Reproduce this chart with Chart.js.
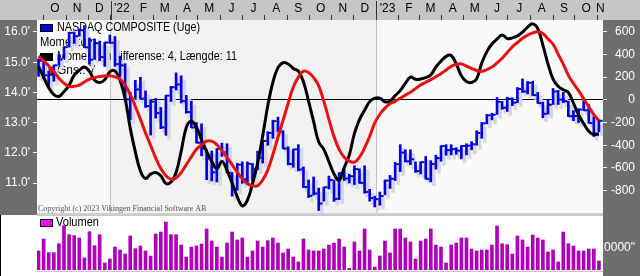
<!DOCTYPE html>
<html>
<head>
<meta charset="utf-8">
<script src="https://cdn.jsdelivr.net/npm/chart.js@4.4.0/dist/chart.umd.min.js"></script>
<style>
    html, body { margin: 0; padding: 0; background: #fff; }
    #wrap { width: 640px; height: 276px; overflow: hidden; }
    canvas { display: block; }
</style>
</head>
<body>
<div id="wrap">
    <canvas id="priceChart" width="640" height="215"></canvas>
    <canvas id="volChart" width="640" height="61"></canvas>
</div>
<script>
// weekly bars, first week ends Fri 24 Sep 2021
const firstWeek = Date.UTC(2021, 8, 24);

const high = [15110, 15040, 14700, 14900, 15250, 15505, 15990, 16000, 16100, 16212,
    15800, 15770, 15700, 15660, 15900,
    15850, 15200, 14950, 14000, 14400, 14500, 14050, 13750, 13800, 13500, 13900, 14200,
    14646, 14550, 13900, 13710, 13000, 12960, 12100, 12060, 12140, 12320, 12300, 11350,
    11650, 11700, 11700, 11650, 12050, 12400, 12700, 13080, 13181, 12730, 12200, 12120,
    12270, 11530, 11100, 11200, 10830, 10860, 11230, 11100, 11340, 11480, 11290, 11570,
    11470, 11570, 10790, 10560,
    10700, 11100, 11250, 11680, 12269, 12100, 12100, 11700, 11700, 11880, 11740, 11920,
    12230, 12270, 12270, 12170, 12240, 12300, 12370, 12730, 13000, 13270, 13310, 13830,
    13700, 13840, 13820, 14160, 14446, 14360, 14370, 14000, 13680, 13770, 14130, 14070,
    14000, 13710, 13400, 13460, 13720, 13600, 13200, 13070];
const low = [14530, 14450, 14180, 14370, 14900, 15120, 15500, 15620, 15860, 15480,
    14930, 15100, 15050, 14860, 15620,
    14860, 14530, 13760, 13094, 13800, 13780, 13500, 12587, 13150, 12800, 12580, 13700,
    14080, 13650, 13310, 12830, 12330, 11900, 11108, 11070, 11035, 11880, 11340, 10565,
    10760, 10990, 10960, 11080, 11440, 11660, 12250, 12480, 12700, 12140, 11600, 11520,
    11400, 10850, 10520, 10600, 10088, 10400, 10800, 10390, 10450, 11080, 11000, 10950,
    10990, 10660, 10400, 10207,
    10265, 10610, 10820, 11080, 11380, 11700, 11610, 11350, 11300, 11130, 11040, 11460,
    11720, 11920, 11930, 11950, 11800, 11930, 12100, 12250, 12480, 12960, 13090, 13270,
    13440, 13370, 13560, 13660, 14000, 13950, 13900, 13640, 13160, 13280, 13600, 13600,
    13660, 13200, 13060, 13000, 13400, 12980, 12540, 12690];
const close = [15047, 14566, 14580, 14897, 15090, 15498, 15971, 15860, 16057, 15491,
    15085, 15630, 15169, 15653, 15645,
    14935, 14894, 13768, 13770, 14098, 13791, 13548, 13694, 13313, 12843, 13893, 14169,
    14262, 13711, 13351, 12839, 12335, 12145, 11805, 11354, 12131, 12013, 11340, 10798,
    11608, 11128, 11635, 11452, 11834, 12391, 12657, 13047, 12705, 12142, 11631, 12112,
    11448, 10868, 10576, 10652, 10321, 10859, 11102, 10475, 11323, 11146, 11226, 11461,
    11005, 10705, 10498, 10466,
    10569, 11079, 11140, 11622, 12007, 11718, 11787, 11395, 11689, 11138, 11631, 11824,
    12222, 12088, 12123, 12073, 12227, 12235, 12284, 12658, 12975, 13241, 13259, 13689,
    13492, 13788, 13661, 14114, 14032, 14317, 13909, 13645, 13291, 13590, 14031, 13761,
    13708, 13212, 13219, 13431, 13407, 12984, 12643, 13061];

// momentum (diff 4, length 11) and its 7-week average
const momentum = [293, 199, 105, 46, 29, 72, 127, 217, 260, 288,
    249, 172, 153, 177, 246, 254, 172, 10, -249, -459,
    -626, -693, -654, -640, -668, -736, -724, -639, -453, -244,
    -189, -242, -352, -455, -543, -605, -542, -622, -733, -851,
    -933, -883, -738, -557, -318, -53, 154, 283, 326, 315,
    276, 253, 159, -11, -192, -372, -436, -544, -652, -709,
    -596, -487, -297, -174, -92, -16, 14, 14, -17, -12,
    37, 81, 145, 199, 180, 183, 195, 219, 289, 340,
    382, 390, 316, 211, 160, 152, 184, 323, 424, 491,
    533, 571, 539, 545, 562, 596, 640, 668, 627, 481,
    316, 182, 119, 88, 64, -29, -134, -209, -276, -306,
    -300];
const signal = [385, 342, 300, 249, 190, 146, 118, 118, 129, 156,
    181, 194, 205, 210, 211, 201, 182, 130, 47, -57,
    -172, -291, -401, -511, -605, -668, -699, -687, -641, -570,
    -502, -435, -398, -364, -364, -395, -448, -507, -571, -639,
    -694, -739, -756, -756, -705, -618, -481, -330, -180, -30,
    110, 199, 252, 241, 196, 123, -12, -172, -323, -437,
    -506, -539, -549, -505, -424, -322, -204, -127, -73, -35,
    -14, 14, 41, 66, 98, 130, 154, 177, 203, 230,
    262, 294, 312, 316, 296, 275, 258, 250, 265, 288,
    324, 366, 416, 466, 504, 541, 569, 589, 598, 583,
    536, 489, 400, 314, 215, 144, 80, 10, -61, -131,
    -185];

const volume = [17300, 28200, 15800, 15800, 23900, 40300, 32100, 31200, 29100, 10900,
    34800, 22100, 32100, 6400, 10000, 20900, 18200, 14500, 30900, 19400,
    21800, 17300, 12700, 32700, 34500, 43600, 32100, 32100, 22700, 11800,
    20900, 21800, 23600, 37300, 26400, 20900, 11800, 24500, 34500, 27300,
    29100, 11800, 17300, 26400, 20900, 26700, 29100, 24500, 15500, 19100,
    11800, 7300, 28200, 18200, 17300, 17300,
    19100, 22700, 24500, 28200, 20900, 1500, 25500, 17300, 37300, 18200,
    2700, 12700, 26400, 15500, 37300, 37300, 29100, 25500, 10000, 26400,
    28200, 37300, 22700, 20900, 6400, 22700, 24500, 29100, 29100, 19100,
    17300, 18200, 18200, 22700, 40000, 23900, 23000, 14500, 30900, 27300,
    20900, 31800, 29100, 27300, 16400, 18200, 7300, 34500, 23900, 21800,
    17300, 17300, 19100, 19100, 8200];

const priceTicks = [11000, 12000, 13000, 14000, 15000, 16000];
const momTicks = [-800, -600, -400, -200, 0, 200, 400, 600];
const volTicks = [20000];
const monthLetters = ['J', 'F', 'M', 'A', 'M', 'J', 'J', 'A', 'S', 'O', 'N', 'D'];

const X_MIN = -0.3, X_MAX = 110.8;
const DAY = 86400000;

Chart.defaults.font.family = '"Liberation Sans", Arial, sans-serif';
Chart.defaults.font.size = 12;

function weekPos(y, m, d) {
    return (Date.UTC(y, m, d) - firstWeek) / (7 * DAY);
}

// month boundaries get a tick mark, the middle of each month gets the letter
function monthTicks() {
    const out = [];
    for (let y = 2021; y <= 2023; y++) {
        for (let m = 0; m < 12; m++) {
            const start = weekPos(y, m, 1);
            const end = weekPos(y, m + 1, 1);
            if (end <= X_MIN || start >= X_MAX) continue;
            if (start <= X_MIN) continue;
            out.push({ value: start, kind: m === 0 ? 'year' : 'month' });
            const b = Math.min(end, X_MAX);
            const text = m === 0 ? "'" + String(y).slice(2) : monthLetters[m];
            out.push({ value: (start + b) / 2, kind: 'label', text: text });
        }
    }
    return out.sort((p, q) => p.value - q.value);
}

// keep chart.js from reserving room for edge labels
function noEdgePad(s) {
    s.paddingTop = 0; s.paddingBottom = 0;
    s.paddingLeft = 0; s.paddingRight = 0;
}

const idx = high.map((_, i) => i);

const priceBackdrop = {
    id: 'priceBackdrop',
    beforeDraw(chart) {
        const { ctx, chartArea: a, scales } = chart;
        ctx.save();
        ctx.fillStyle = '#6e6e6e';
        ctx.fillRect(0, 0, chart.width, chart.height);
        ctx.fillStyle = '#c6c6c6';
        ctx.fillRect(0, 0, chart.width, a.top);
        ctx.fillStyle = '#f9f9f9';
        ctx.fillRect(a.left, a.top, a.right - a.left, a.bottom - a.top);
        const x22 = scales.x.getPixelForValue(weekPos(2022, 0, 1));
        const x23 = scales.x.getPixelForValue(weekPos(2023, 0, 1));
        ctx.fillStyle = '#f1f1f1';
        ctx.fillRect(x22, a.top, x23 - x22, a.bottom - a.top);
        ctx.fillStyle = '#cfcfcf';
        ctx.fillRect(a.left, a.bottom, a.right - a.left, chart.height - a.bottom);
        ctx.strokeStyle = '#333';
        ctx.lineWidth = 1;
        [x22, x23].forEach(x => {
            ctx.beginPath();
            ctx.moveTo(Math.round(x) + 0.5, 1);
            ctx.lineTo(Math.round(x) + 0.5, a.top);
            ctx.stroke();
        });
        ctx.restore();
    },
    beforeDatasetsDraw(chart) {
        const { ctx, chartArea: a } = chart;
        ctx.save();
        ctx.textBaseline = 'middle';
        ctx.font = '12px "Liberation Sans", Arial, sans-serif';
        const boxes = [['#0000e0', 24], ['#000000', 53], ['#e81010', 67]];
        boxes.forEach(([c, y]) => {
            ctx.fillStyle = c;
            ctx.fillRect(a.left + 3, y, 13, 8);
            ctx.strokeStyle = '#000';
            ctx.strokeRect(a.left + 3.5, y + 0.5, 12, 7);
        });
        ctx.fillStyle = '#000';
        ctx.fillText('NASDAQ COMPOSITE (Uge)', a.left + 20, 28, 143);
        ctx.fillText('Momentum', a.left + 3, 43, 56);
        ctx.fillText('Momentum differense: 4, Længde: 11', a.left + 20, 57, 180);
        ctx.fillText('Gns.: 7', a.left + 20, 71, 40);
        ctx.font = '8px "Liberation Serif", serif';
        ctx.fillStyle = '#555';
        ctx.textBaseline = 'alphabetic';
        ctx.fillText('Copyright (c) 2023 Vikingen Financial Software AB', a.left + 1, a.bottom - 2);
        ctx.restore();
    }
};

new Chart(document.getElementById('priceChart'), {
    type: 'bar',
    data: {
        datasets: [
            {
                type: 'line', label: 'Gns.: 7', yAxisID: 'yM', order: 0,
                data: idx.map(i => ({ x: i, y: signal[i] })),
                borderColor: '#e81010', borderWidth: 3, pointRadius: 0, tension: 0.4
            },
            {
                type: 'line', label: 'Momentum', yAxisID: 'yM', order: 1,
                data: idx.map(i => ({ x: i, y: momentum[i] })),
                borderColor: '#000', borderWidth: 3, pointRadius: 0, tension: 0.4
            },
            {
                type: 'line', label: 'close', yAxisID: 'y', order: 2, showLine: false,
                data: idx.map(i => ({ x: i + 0.35, y: close[i] })),
                pointStyle: 'line', pointRadius: 2, borderColor: '#0000e0', pointBorderWidth: 2
            },
            {
                label: 'NASDAQ COMPOSITE (Uge)', yAxisID: 'y', order: 3, grouped: false,
                data: idx.map(i => ({ x: i, y: [low[i], high[i]] })),
                backgroundColor: '#0000e0', barThickness: 2
            },
            {
                label: 'shadow', yAxisID: 'y', order: 4, grouped: false,
                data: idx.map(i => ({ x: i + 0.6, y: [low[i] - 130, high[i] - 130] })),
                backgroundColor: '#d6d6e4', barThickness: 3
            }
        ]
    },
    options: {
        responsive: false,
        animation: false,
        events: [],
        layout: { autoPadding: false, padding: { left: 0, right: 5, top: 0, bottom: 2 } },
        plugins: { legend: { display: false }, tooltip: { enabled: false } },
        scales: {
            x: {
                type: 'linear', position: 'top', min: X_MIN, max: X_MAX, offset: false, bounds: 'data',
                afterBuildTicks: s => { s.ticks = monthTicks(); },
                afterFit: s => { s.height = 20; noEdgePad(s); },
                ticks: {
                    autoSkip: false, maxRotation: 0, padding: -1, color: '#000',
                    callback: (v, i, t) => t[i].text || ''
                },
                grid: {
                    drawOnChartArea: true, offset: false, tickLength: 5,
                    color: c => (c.tick && c.tick.kind === 'year') ? '#c2c2c2' : 'rgba(0,0,0,0)',
                    tickColor: c => (c.tick && c.tick.kind !== 'label') ? '#333' : 'rgba(0,0,0,0)'
                },
                border: { display: false }
            },
            y: {
                position: 'left', min: 10007, max: 16397,
                afterBuildTicks: s => { s.ticks = priceTicks.map(v => ({ value: v })); },
                afterFit: s => { s.width = 37; noEdgePad(s); },
                ticks: { color: '#fff', padding: 3, callback: v => (v / 1000).toFixed(1) + "'" },
                grid: { drawOnChartArea: false, tickLength: 4, tickColor: '#fff' },
                border: { display: false }
            },
            yM: {
                position: 'right', min: -996, max: 702,
                afterBuildTicks: s => { s.ticks = momTicks.map(v => ({ value: v })); },
                afterFit: s => { s.width = 32; noEdgePad(s); },
                ticks: { color: '#fff', crossAlign: 'far' },
                grid: {
                    drawOnChartArea: true, tickLength: 4, tickColor: '#fff',
                    color: c => (c.tick && c.tick.value === 0) ? '#000' : 'rgba(0,0,0,0)'
                },
                border: { display: false }
            }
        }
    },
    plugins: [priceBackdrop]
});

const volBackdrop = {
    id: 'volBackdrop',
    beforeDraw(chart) {
        const { ctx, chartArea: a } = chart;
        ctx.save();
        ctx.fillStyle = '#fff';
        ctx.fillRect(0, 0, chart.width, chart.height);
        ctx.fillStyle = '#6e6e6e';
        ctx.fillRect(a.right, 0, chart.width - a.right, chart.height);
        ctx.fillStyle = '#000';
        ctx.fillRect(0, 0, 1, chart.height);
        ctx.fillStyle = '#c8c8c8';
        ctx.fillRect(a.left, 0, a.right - a.left, 1);
        ctx.fillRect(a.left, a.bottom + 1, a.right - a.left, 1);
        ctx.fillStyle = '#ff00ff';
        ctx.fillRect(a.left + 3, 4, 13, 8);
        ctx.strokeStyle = '#000';
        ctx.strokeRect(a.left + 3.5, 4.5, 12, 7);
        ctx.fillStyle = '#000';
        ctx.textBaseline = 'middle';
        ctx.font = '12px "Liberation Sans", Arial, sans-serif';
        ctx.fillText('Volumen', a.left + 19, 8, 43);
        ctx.restore();
    }
};

new Chart(document.getElementById('volChart'), {
    type: 'bar',
    data: {
        datasets: [{
            label: 'Volumen', yAxisID: 'yV', grouped: false,
            data: idx.map(i => ({ x: i, y: volume[i] })),
            backgroundColor: '#b000ba', barThickness: 3
        }]
    },
    options: {
        responsive: false,
        animation: false,
        events: [],
        layout: { autoPadding: false, padding: { left: 37, right: 5, top: 1, bottom: 6 } },
        plugins: { legend: { display: false }, tooltip: { enabled: false } },
        scales: {
            x: { type: 'linear', min: X_MIN, max: X_MAX, offset: false, display: false },
            yV: {
                position: 'right', min: 0, max: 49091,
                afterBuildTicks: s => { s.ticks = volTicks.map(v => ({ value: v })); },
                afterFit: s => { s.width = 32; noEdgePad(s); },
                ticks: { color: '#fff', crossAlign: 'far', callback: v => v + '"' },
                grid: { display: false },
                border: { display: false }
            }
        }
    },
    plugins: [volBackdrop]
});
</script>
</body>
</html>
